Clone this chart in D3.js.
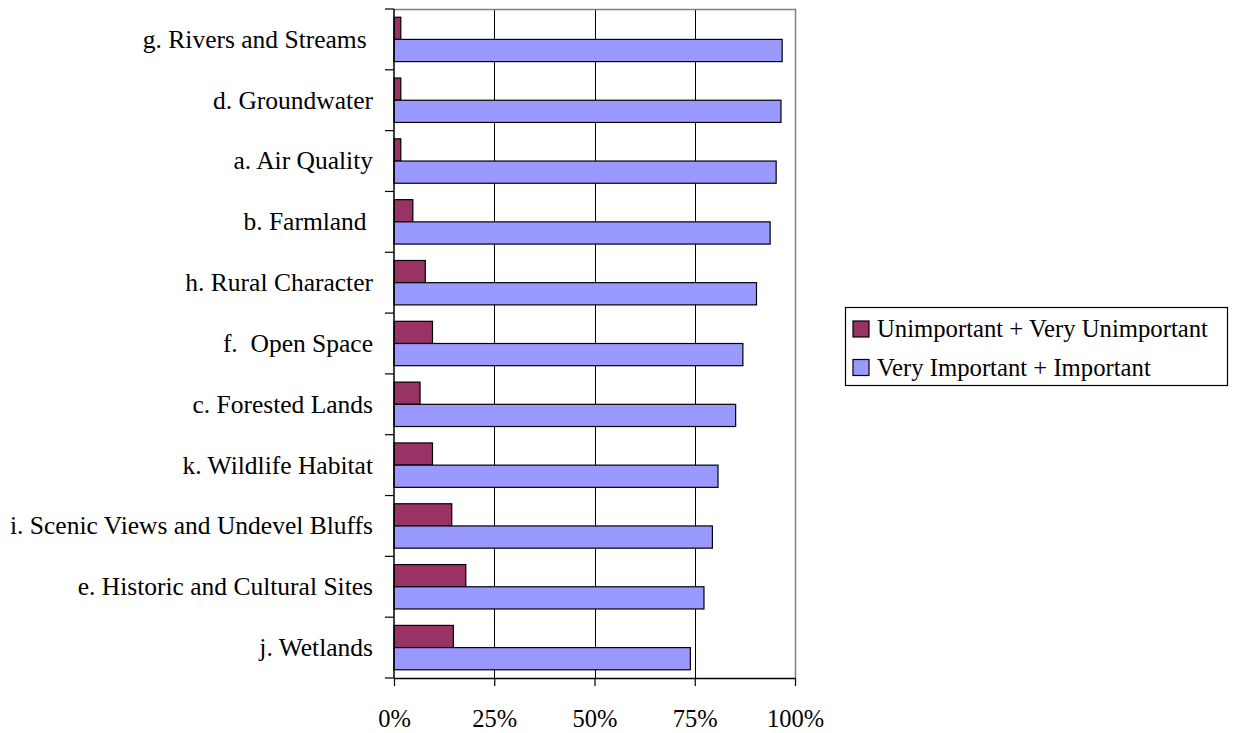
<!DOCTYPE html>
<html>
<head>
<meta charset="utf-8">
<script src="https://cdn.jsdelivr.net/npm/d3@7"></script>
<style>
  html, body { margin: 0; padding: 0; background: #fff; }
  svg { display: block; }
  text { font-family: "Liberation Serif", "Times New Roman", serif; fill: #000; }
</style>
</head>
<body>
<svg id="chart" width="1238" height="733"></svg>
<script>
const categories = [
  "g. Rivers and Streams ",
  "d. Groundwater",
  "a. Air Quality",
  "b. Farmland ",
  "h. Rural Character",
  "f.  Open Space",
  "c. Forested Lands",
  "k. Wildlife Habitat",
  "i. Scenic Views and Undevel Bluffs",
  "e. Historic and Cultural Sites",
  "j. Wetlands"
];
const seriesNames = ["Unimportant + Very Unimportant", "Very Important + Important"];
const unimportant = [1.7, 1.7, 1.7, 4.7, 7.8, 9.6, 6.5, 9.6, 14.4, 17.9, 14.8];
const important   = [96.8, 96.5, 95.3, 93.8, 90.4, 87.0, 85.2, 80.8, 79.4, 77.3, 73.9];
const xTicks = [0, 25, 50, 75, 100];
const xTickLabels = ["0%", "25%", "50%", "75%", "100%"];
const colors = ["#993366", "#9999FF"];

const svg = d3.select("#chart");
const plot = { left: 394, right: 795, top: 9, bottom: 678 };

const x = d3.scaleLinear().domain([0, 100]).range([plot.left, plot.right]);
const y = d3.scaleBand().domain(categories).range([plot.top, plot.bottom]).paddingInner(0).paddingOuter(0);
const inner = d3.scaleBand().domain([0, 1]).range([0, y.bandwidth()]).paddingInner(0).paddingOuter(0.37);

svg.append("rect")
  .attr("x", plot.left).attr("y", plot.top)
  .attr("width", plot.right - plot.left).attr("height", plot.bottom - plot.top)
  .attr("fill", "#fff");

svg.append("g").selectAll("line")
  .data(xTicks.filter(t => t > 0 && t < 100))
  .join("line")
  .attr("x1", d => Math.round(x(d)) + 0.5).attr("x2", d => Math.round(x(d)) + 0.5)
  .attr("y1", plot.top).attr("y2", plot.bottom)
  .attr("stroke", "#000").attr("stroke-width", 1);

svg.append("path")
  .attr("d", `M${plot.left},${plot.top + 0.5}H${plot.right + 0.5}V${plot.bottom}`)
  .attr("fill", "none").attr("stroke", "#808080").attr("stroke-width", 1.5);

const series = [unimportant, important];
series.forEach((vals, si) => {
  svg.append("g").selectAll("rect")
    .data(vals)
    .join("rect")
    .attr("x", x(0))
    .attr("y", (d, i) => y(categories[i]) + inner(si))
    .attr("width", d => x(d) - x(0))
    .attr("height", inner.bandwidth())
    .attr("fill", colors[si])
    .attr("stroke", "#000")
    .attr("stroke-width", 1.2);
});

const xAxis = d3.axisBottom(x)
  .tickValues(xTicks)
  .tickFormat((d, i) => xTickLabels[i])
  .tickSize(8)
  .tickSizeOuter(0);
const gx = svg.append("g").attr("transform", `translate(0,${plot.bottom})`).call(xAxis);
gx.select(".domain").attr("stroke", "#000").attr("stroke-width", 1.5);
gx.selectAll(".tick line").attr("stroke", "#000").attr("stroke-width", 1.2);
gx.selectAll(".tick text")
  .attr("y", 49)
  .attr("dy", 0)
  .attr("font-size", 24.5)
  .attr("font-family", "Liberation Serif, serif")
  .attr("fill", "#000");

const yBounds = d3.range(categories.length + 1).map(i => plot.top + i * y.step());
svg.append("line")
  .attr("x1", plot.left).attr("x2", plot.left)
  .attr("y1", plot.top).attr("y2", plot.bottom)
  .attr("stroke", "#000").attr("stroke-width", 1.5);
svg.append("g").selectAll("line")
  .data(yBounds)
  .join("line")
  .attr("x1", plot.left - 9).attr("x2", plot.left)
  .attr("y1", d => d).attr("y2", d => d)
  .attr("stroke", "#000").attr("stroke-width", 1.2);
svg.append("g").selectAll("text")
  .data(categories)
  .join("text")
  .attr("x", 373)
  .attr("y", d => y(d) + y.bandwidth() / 2)
  .attr("dy", "0.33em")
  .attr("text-anchor", "end")
  .attr("font-size", 25.5)
  .style("white-space", "pre")
  .attr("xml:space", "preserve")
  .text(d => d);

const lg = svg.append("g");
lg.append("rect")
  .attr("x", 845.5).attr("y", 307.5).attr("width", 382).attr("height", 78)
  .attr("fill", "#fff").attr("stroke", "#000").attr("stroke-width", 1.2);
seriesNames.forEach((name, i) => {
  const yy = 321 + i * 38.5;
  lg.append("rect")
    .attr("x", 853).attr("y", yy).attr("width", 16).attr("height", 16)
    .attr("fill", colors[i]).attr("stroke", "#000").attr("stroke-width", 1.2);
  lg.append("text")
    .attr("x", 877).attr("y", yy + 16)
    .attr("font-size", 24.7)
    .text(name);
});
</script>
</body>
</html>
